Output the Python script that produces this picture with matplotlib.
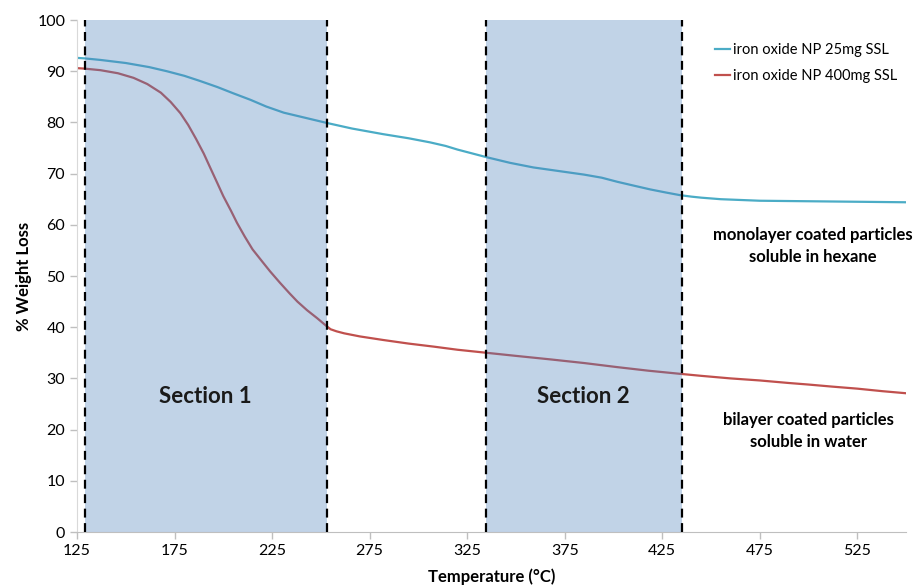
import matplotlib
matplotlib.use("Agg")
import matplotlib.pyplot as plt
import numpy as np

plt.rcParams['font.family'] = ['Lato', 'DejaVu Sans']

# Data
temp_blue = [125, 129, 137, 150, 162, 171, 180, 188, 197, 205, 214, 222, 231, 242, 253, 266, 282, 295, 306, 314, 320, 328, 335, 347, 359, 372, 385, 394, 402, 411, 419, 427, 434, 440, 445, 455, 475, 500, 525, 550]
wl_blue   = [92.6, 92.5, 92.2, 91.6, 90.8, 90.0, 89.1, 88.1, 86.9, 85.7, 84.4, 83.1, 81.9, 80.9, 79.9, 78.8, 77.7, 76.9, 76.1, 75.4, 74.7, 73.9, 73.2, 72.1, 71.2, 70.5, 69.8, 69.2, 68.4, 67.6, 66.9, 66.3, 65.8, 65.5, 65.3, 65.0, 64.7, 64.6, 64.5, 64.4]

temp_red = [125, 129, 137, 146, 154, 161, 168, 173, 178, 182, 186, 190, 193, 197, 200, 204, 207, 211, 215, 220, 224, 229, 234, 238, 243, 248, 253, 255, 258, 262, 270, 282, 295, 308, 320, 335, 350, 368, 385, 402, 418, 434, 445, 460, 475, 490, 500, 512, 525, 538, 550]
wl_red   = [90.6, 90.5, 90.2, 89.6, 88.7, 87.5, 85.8, 84.0, 81.8, 79.5, 76.8, 73.9, 71.4, 68.1, 65.6, 62.7, 60.4, 57.7, 55.2, 52.8, 50.9, 48.7, 46.6, 45.0, 43.3, 41.8, 40.2, 39.6, 39.2, 38.8, 38.2, 37.5, 36.8, 36.2, 35.6, 35.0, 34.4, 33.7, 33.0, 32.2, 31.5, 30.9, 30.5, 30.0, 29.6, 29.1, 28.8, 28.4, 28.0, 27.5, 27.1]

sections = [(129, 253), (334.5, 435)]
section_labels = ["Section 1", "Section 2"]

fig = plt.figure(figsize=(9.15, 5.87), dpi=100)
ax = fig.add_axes([77/915, 1-532/587, (906-77)/915, (532-20)/587])

ax.plot(temp_blue, wl_blue, color='#4BACC6', lw=1.6, label='iron oxide NP 25mg SSL', zorder=2,
        solid_joinstyle='round')
ax.plot(temp_red, wl_red, color='#C0504D', lw=1.6, label='iron oxide NP 400mg SSL', zorder=2,
        solid_joinstyle='round')

for (a, b), lab in zip(sections, section_labels):
    ax.axvspan(a, b, color='#4F81BD', alpha=0.35, lw=0, zorder=3)
    for xv in (a, b):
        ax.axvline(xv, color='black', lw=1.6, ls=(0, (4, 2.5)), zorder=4)
    ax.text((a + b) / 2, 26.5, lab, ha='center', va='center', fontsize=16, fontweight='bold', color='#1a1a1a', zorder=5)

ax.text(502, 55.9, "monolayer coated particles\nsoluble in hexane", ha='center', va='center',
        fontsize=12, fontweight='bold', color='black', linespacing=1.45)
ax.text(500, 19.7, "bilayer coated particles\nsoluble in water", ha='center', va='center',
        fontsize=12, fontweight='bold', color='black', linespacing=1.45)

ax.set_xlim(125, 550)
ax.set_ylim(0, 100)
ax.set_xticks(np.arange(125, 550, 50))
ax.set_yticks(np.arange(0, 101, 10))
ax.tick_params(axis='both', labelsize=11.5, color='#BFBFBF', length=5, width=1, direction='out')
for s in ['top', 'right']:
    ax.spines[s].set_visible(False)
ax.spines['left'].set_color('#D9D9D9')
ax.spines['bottom'].set_color('#BFBFBF')

ax.set_xlabel('Temperature (°C)', fontsize=12, fontweight='bold', labelpad=8)
ax.set_ylabel('% Weight Loss', fontsize=12, fontweight='bold', labelpad=4)

leg = ax.legend(loc='upper right', bbox_to_anchor=(1.005, 0.98), frameon=False, fontsize=10.5,
                handlelength=1.0, handletextpad=0.2, labelspacing=0.8)

fig.savefig('out.png', dpi=100)
